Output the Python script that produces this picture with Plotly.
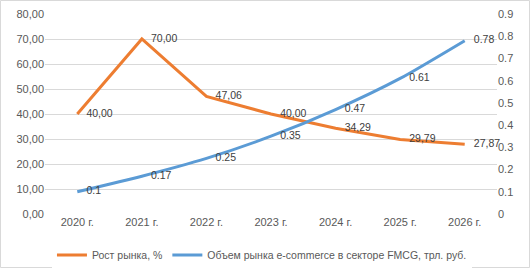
import plotly.graph_objects as go

years = ["2020 г.", "2021 г.", "2022 г.", "2023 г.", "2024 г.", "2025 г.", "2026 г."]
growth = [40.00, 70.00, 47.06, 40.00, 34.29, 29.79, 27.87]
volume = [0.1, 0.17, 0.25, 0.35, 0.47, 0.61, 0.78]
left_ticks = [0, 10, 20, 30, 40, 50, 60, 70, 80]
right_ticks = [0, 0.1, 0.2, 0.3, 0.4, 0.5, 0.6, 0.7, 0.8, 0.9]

growth_labels = [f"{v:.2f}".replace(".", ",") for v in growth]
volume_labels = [f"{v:g}" for v in volume]
left_text = [f"{v:.2f}".replace(".", ",") for v in left_ticks]
right_text = [f"{v:g}" for v in right_ticks]

FONT = "Liberation Sans"
GRAY = "#595959"
CLEAR = "rgba(0,0,0,0)"

fig = go.Figure()
fig.add_trace(go.Scatter(
    x=years, y=growth, name="Рост рынка, %", mode="lines+markers+text",
    line=dict(color="#ED7D31", width=3),
    marker=dict(size=13, color=CLEAR, line=dict(width=0)),
    text=growth_labels, textposition="middle right",
    textfont=dict(family=FONT, size=10.5, color="#404040"),
    cliponaxis=False,
))
fig.add_trace(go.Scatter(
    x=years, y=volume, name="Объем рынка e-commerce в секторе FMCG, трл. руб.",
    mode="lines+markers+text", yaxis="y2",
    line=dict(color="#5B9BD5", width=3, shape="spline", smoothing=0.6),
    marker=dict(size=13, color=CLEAR, line=dict(width=0)),
    text=volume_labels, textposition="middle right",
    textfont=dict(family=FONT, size=10.5, color="#404040"),
    cliponaxis=False,
))

fig.update_layout(
    width=530, height=268,
    margin=dict(l=45, r=33, t=14, b=54, autoexpand=False),
    paper_bgcolor="white", plot_bgcolor="white",
    font=dict(family=FONT, size=11, color=GRAY),
    xaxis=dict(range=[-0.5, 6.5], showgrid=False, showline=False, ticks="",
               tickfont=dict(size=11, color=GRAY)),
    yaxis=dict(range=[0, 80], tickvals=left_ticks, ticktext=left_text,
               showgrid=True, gridcolor="#D9D9D9", gridwidth=1, zeroline=False,
               showline=False, ticks="", tickfont=dict(size=11, color=GRAY)),
    yaxis2=dict(range=[0, 0.9], tickvals=right_ticks, ticktext=right_text,
                overlaying="y", side="right", showgrid=False, zeroline=False,
                showline=False, ticks="", tickfont=dict(size=11, color=GRAY)),
    legend=dict(orientation="h", x=0.48, xanchor="center", y=-0.205, yanchor="middle",
                font=dict(size=10.5, color=GRAY), itemwidth=30, tracegroupgap=0),
    showlegend=True,
)
fig.add_shape(type="rect", xref="paper", yref="paper",
              x0=-44.5 / 452, x1=(529.5 - 45) / 452, y0=-(267.5 - 214) / 200, y1=1 + 13.5 / 200,
              line=dict(color="#D9D9D9", width=1))

fig.write_html("out.html", config={"displayModeBar": False},
               post_script="document.body.style.margin='0';")
